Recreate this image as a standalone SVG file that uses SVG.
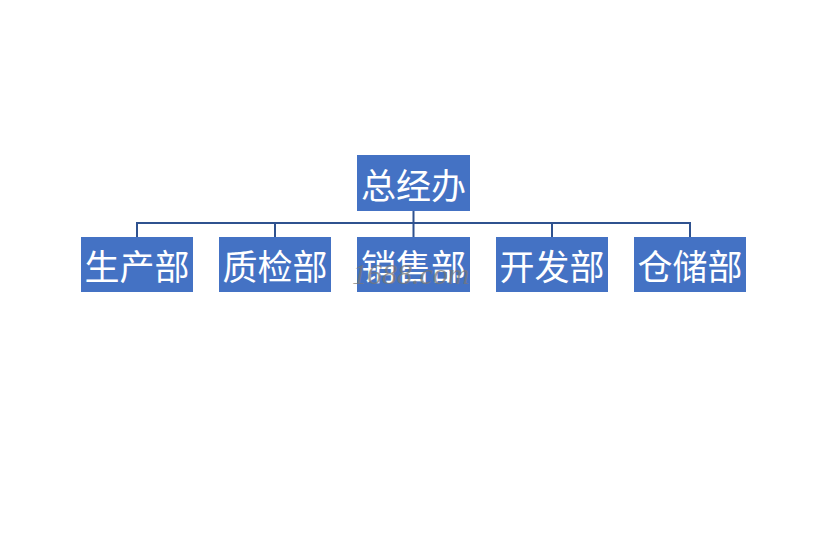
<svg xmlns="http://www.w3.org/2000/svg" width="838" height="549" viewBox="0 0 838 549">
<style>
.box{fill:#4472c4;}
.lbl{font-family:"Noto Sans CJK SC","Liberation Serif",serif;font-size:35px;fill:#ffffff;text-anchor:middle;dominant-baseline:central;}
.conn{stroke:#2f528f;stroke-width:2;fill:none;}
.wm{font-family:"Liberation Serif",serif;font-style:italic;font-size:30px;fill:#777777;fill-opacity:0.75;}
</style>
<rect width="838" height="549" fill="#ffffff"/>
<g id="connectors">
<path class="conn" d="M413.5 211V223M137 237V223H690V237M275 223V237M413.5 223V237M552 223V237"/>
</g>
<g id="n0"><rect class="box" x="357" y="155" width="113" height="56"/><text class="lbl" x="413.5" y="183">总经办</text></g>
<g id="n1"><rect class="box" x="81" y="237" width="112" height="55"/><text class="lbl" x="137" y="264.5">生产部</text></g>
<g id="n2"><rect class="box" x="219" y="237" width="112" height="55"/><text class="lbl" x="275" y="264.5">质检部</text></g>
<g id="n3"><rect class="box" x="357" y="237" width="113" height="55"/><text class="lbl" x="413.5" y="264.5">销售部</text></g>
<g id="n4"><rect class="box" x="496" y="237" width="112" height="55"/><text class="lbl" x="552" y="264.5">开发部</text></g>
<g id="n5"><rect class="box" x="634" y="237" width="112" height="55"/><text class="lbl" x="690" y="264.5">仓储部</text></g>
<text class="wm" x="352" y="284">1688.com</text>
</svg>
